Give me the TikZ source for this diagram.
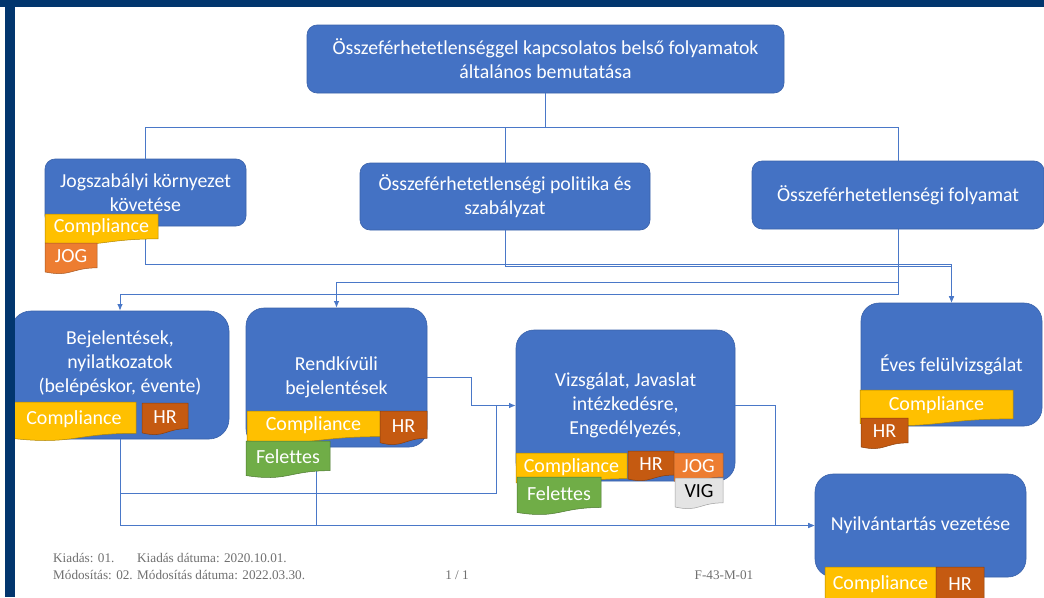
\documentclass[tikz,border=0pt]{standalone}
\usepackage{fontspec}
\setmainfont{Carlito}[Ligatures=NoCommon]
\newfontfamily\footfont{Liberation Serif}
\usetikzlibrary{arrows.meta}
\definecolor{boxblue}{HTML}{4472C4}
\definecolor{boxborder}{HTML}{3A62AA}
\definecolor{linec}{HTML}{4A78C8}
\definecolor{compl}{HTML}{FFC000}
\definecolor{jogc}{HTML}{ED7D31}
\definecolor{hrc}{HTML}{C55A11}
\definecolor{felc}{HTML}{70AD47}
\definecolor{vigc}{HTML}{E4E4E4}
\definecolor{framec}{HTML}{02366E}
\definecolor{footc}{HTML}{707070}
\tikzset{
  box/.style={draw=boxborder, line width=0.6pt, fill=boxblue, text=white,
    font=\fontsize{19.8}{24}\selectfont, align=center, inner sep=0pt,
    rounded corners=#1},
  box/.default=10pt,
  boxtext/.style={text=white, font=\fontsize{19.8}{24}\selectfont, align=center, inner sep=0pt},
  tagtext/.style={font=\fontsize{20}{22}\selectfont, inner sep=0pt},
  conn/.style={draw=linec, line width=1pt},
  arr/.style={conn, -{Latex[length=6.5pt,width=5.5pt]}},
  foot/.style={text=footc, font=\footfont\fontsize{13.2}{16}\selectfont, inner sep=0pt, anchor=west},
}
% #1 name, #2 x, #3 y, #4 w, #5 h, #6 fill, #7 text colour, #8 text
\newcommand\doctag[8]{%
  \path[draw=#6!70!black, line width=0.5pt, fill=#6]
    (#2,#3) -- (#2+#4,#3) -- (#2+#4,#3+0.802*#5)
    .. controls (#2+0.5*#4,#3+0.802*#5) and (#2+0.5*#4,#3+1.107*#5) .. (#2,#3+0.934*#5) -- cycle;
  \node[tagtext, text=#7] (#1) at (#2+0.5*#4,#3+0.43*#5) {#8};
}
\begin{document}
\begin{tikzpicture}[x=1pt,y=-1pt]
\useasboundingbox (0,0) rectangle (1044,597);
\fill[white] (0,0) rectangle (1044,597);

% boxes
\node[box, minimum width=477pt, minimum height=68pt] (top) at (545.5,59)
  {Összeférhetetlenséggel kapcsolatos belső folyamatok\\általános bemutatása};
\node[box, minimum width=201pt, minimum height=67pt] (jog) at (145.5,192.5)
  {Jogszabályi környezet\\követése};
\node[box, minimum width=290pt, minimum height=67pt] (pol) at (505,196.5)
  {Összeférhetetlenségi politika és\\szabályzat};
\node[box, minimum width=292pt, minimum height=68pt] (fol) at (898,195)
  {Összeférhetetlenségi folyamat};
\node[box=20pt, minimum width=218pt, minimum height=128pt] (bej) at (120,375) {};
\node[boxtext] (bejt) at (120,363) {Bejelentések,\\nyilatkozatok\\(belépéskor, évente)};
\node[box=18pt, minimum width=181pt, minimum height=139pt] (rend) at (336.5,377.5)
  {Rendkívüli\\bejelentések};
\node[box=18pt, minimum width=219pt, minimum height=151pt] (vizs) at (625.5,405.5)
  {Vizsgálat, Javaslat\\intézkedésre,\\Engedélyezés,};
\node[box=18pt, minimum width=181pt, minimum height=123pt] (eves) at (951.5,364.5)
  {Éves felülvizsgálat};
\node[box=18pt, minimum width=211pt, minimum height=103pt] (nyil) at (920.5,525.5)
  {Nyilvántartás vezetése};

% connectors: tree from the top box
\coordinate (tj) at (top.south |- 0,127);
\draw[conn] (top.south) -- (tj);
\draw[conn] (tj) -| (jog.north);
\draw[conn] (tj) -| (pol.north);
\draw[conn] (tj) -| (fol.north);

% second level
\draw[arr] (jog.south) -- (jog.south |- 0,264) -| (eves.north);
\draw[arr] (pol.south) -- (pol.south |- 0,266) -| (eves.north);
\draw[arr] (fol.south) -- (fol.south |- 0,294) -| (bej.north);
\draw[arr] (fol.south |- 0,282) -| (rend.north);

% lower level
\draw[arr] (rend.east) -- ++(44,0) |- (vizs.west);
\draw[conn] (bej.south) |- (496,493) -- (496,406);
\draw[arr] (bej.south) |- (nyil.west);
\coordinate (frb) at (316,462);
\draw[conn] (frb) -- (frb |- nyil.west);
\draw[arr] (vizs.east) -- ++(40,0) |- (nyil.west);

% tags
\doctag{jc}{45}{214}{113}{31}{compl}{white}{Compliance}
\doctag{jj}{45}{243}{52}{31}{jogc}{white}{JOG}

\doctag{bc}{12}{402}{124}{39}{compl}{white}{Compliance}
\doctag{bh}{142}{403}{46}{32}{hrc}{white}{HR}

\doctag{rc}{247}{411}{133}{32}{compl}{white}{Compliance}
\doctag{rh}{380}{411}{47}{34}{hrc}{white}{HR}
\doctag{rf}{246}{441}{84}{37}{felc}{white}{Felettes}

\doctag{vc}{516}{453}{111}{32}{compl}{white}{Compliance}
\doctag{vh}{628}{451}{46}{30}{hrc}{white}{HR}
\doctag{vj}{674}{453}{49}{30}{jogc}{white}{JOG}
\doctag{vv}{675}{478}{48}{31}{vigc}{black}{VIG}
\doctag{vf}{517}{477}{84}{38}{felc}{white}{Felettes}

\doctag{ec}{860}{390}{153}{36}{compl}{white}{Compliance}
\doctag{eh}{861}{418}{47}{31}{hrc}{white}{HR}

\doctag{nc}{825}{567}{111}{40}{compl}{white}{Compliance}
\doctag{nh}{936}{567}{48}{40}{hrc}{white}{HR}

% frame
\fill[framec] (0,0) rectangle (1044,7);
\fill[framec] (5,0) rectangle (15,597);

% footer
\node[foot] (f1) at (53,558) {Kiadás: 01.};
\node[foot] (f2) at (137,558) {Kiadás dátuma: 2020.10.01.};
\node[foot] (f3) at (53,575) {Módosítás: 02. Módosítás dátuma: 2022.03.30.};
\node[foot, anchor=center] (f4) at (457,575) {1 / 1};
\node[foot, anchor=center] (f5) at (724,575) {F-43-M-01};
\end{tikzpicture}
\end{document}
